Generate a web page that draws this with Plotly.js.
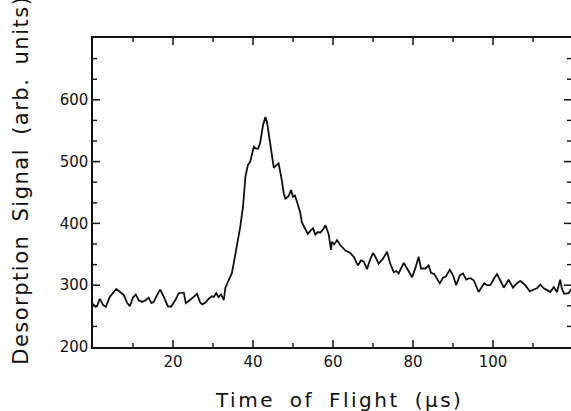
<!DOCTYPE html>
<html>
<head>
<meta charset="utf-8">
<script src="https://cdn.plot.ly/plotly-3.0.1.min.js"></script>
<style>
  html, body { margin: 0; padding: 0; background: #fff; }
  #plot { width: 571px; height: 411px; }
  .annotation-text { letter-spacing: 1.5px; word-spacing: 5px; }
  .annotation[data-index="0"] .annotation-text { letter-spacing: 2.5px; word-spacing: 6px; }
</style>
</head>
<body>
<div id="plot"></div>
<script>
// Time of flight (µs)
const timeOfFlight = [
  0, 0.6, 1, 1.7, 2.5, 3.2, 4.2, 4.8, 5.8, 6.8, 7.7, 8.5, 9.2, 10, 10.7, 11.4, 12.2, 13, 13.9, 14.6,
  15.2, 16, 16.8, 17.7, 18.7, 19.5, 20.6, 21.4, 22, 22.7, 23.2, 23.9, 25, 26, 26.8, 27.3, 28.1, 28.9,
  29.7, 30.2, 30.8, 31.4, 32, 32.7, 33.1, 33.9, 34.7, 35.2, 36, 36.8, 37.5, 38.1, 38.7, 39.3, 40.2,
  40.8, 41.3, 41.8, 42.5, 43.1, 43.5, 44.3, 45.2, 45.8, 46.4, 47.2, 47.7, 48.1, 48.9, 49.5, 50, 50.5,
  51, 51.8, 52.2, 53.1, 53.7, 54.5, 55, 55.6, 56.2, 56.8, 57.5, 58.1, 58.9, 59.5, 59.7, 60.3, 61,
  61.8, 62.5, 63.1, 64.3, 65.2, 66.2, 67, 67.7, 68.5, 69.2, 70, 70.6, 71.4, 72.5, 73.5, 74.3, 75.2,
  75.8, 76.4, 77.7, 78.5, 79.8, 80.6, 81.4, 82, 83.1, 83.9, 84.5, 85.3, 86.7, 87.5, 88.2, 89.2, 90,
  90.8, 91.7, 92.5, 93.3, 93.9, 94.5, 95.2, 96.4, 97, 97.8, 98.5, 99.3, 100.2, 101, 101.8, 102.7,
  103.9, 105, 105.8, 106.8, 108.1, 109.2, 110.2, 111, 111.8, 112.7, 113.5, 114.3, 115.2, 116, 116.8,
  117.2, 117.8, 118.9, 119.6
];

// Desorption signal (arb. units)
const desorptionSignal = [
  270, 265, 266, 278, 268, 265, 281, 286, 294, 289, 284, 272, 266, 280, 285, 276, 273, 275, 280, 271,
  273, 284, 293, 281, 266, 265, 276, 287, 288, 288, 271, 274, 280, 286, 272, 269, 272, 278,
  282, 281, 287, 281, 285, 276, 296, 308, 319, 336, 362, 394, 427, 475, 494, 500, 524,
  521, 521, 531, 559, 572, 564, 529, 490, 494, 497, 470, 448, 440, 444, 454, 443, 445,
  434, 418, 402, 392, 383, 389, 392, 382, 386, 385, 390, 397, 383, 357, 370, 366, 373,
  365, 360, 356, 352, 346, 332, 340, 338, 326, 340, 352, 346, 335, 343, 354, 335, 321,
  323, 319, 336, 327, 313, 328, 346, 327, 327, 332, 320, 318, 303, 312, 314, 325, 316,
  300, 316, 319, 309, 311, 311, 308, 289, 295, 303, 300, 300, 310, 318, 308, 296,
  309, 296, 302, 307, 300, 290, 293, 295, 301, 295, 292, 289, 297, 289, 309,
  295, 286, 287, 294
];

// Labelled (major) ticks
const xTickValues = [20, 40, 60, 80, 100];
const yTickValues = [300, 400, 500, 600];
const yTickLabels = [200, 300, 400, 500, 600];

// Short unlabelled ticks between the labelled ones
const xMinorTicks = [10, 30, 50, 70, 90, 110];
const yMinorTicks = [233.3, 266.7, 333.3, 366.7, 433.3, 466.7, 533.3, 566.7, 633.3, 666.7];

const xTitle = 'Time of Flight (µs)';
const yTitle = 'Desorption Signal (arb. units)';

const ink = '#111';
const tickFont = { family: 'DejaVu Sans, sans-serif', size: 15, color: ink };

const trace = {
  x: timeOfFlight,
  y: desorptionSignal,
  mode: 'lines',
  line: { color: ink, width: 1.8 }
};

// Inward tick marks on all four sides of the frame, placed on the axis scales
// (data units along the axis, pixel length across it).
function xTicks(vals, len, width) {
  return vals.flatMap(v => [
    { type: 'line', layer: 'above', xref: 'x', yref: 'paper', ysizemode: 'pixel', yanchor: 0,
      x0: v, x1: v, y0: 0, y1: len, line: { color: ink, width: width } },
    { type: 'line', layer: 'above', xref: 'x', yref: 'paper', ysizemode: 'pixel', yanchor: 1,
      x0: v, x1: v, y0: 0, y1: -len, line: { color: ink, width: width } }
  ]);
}
function yTicks(vals, len, width) {
  return vals.flatMap(v => [
    { type: 'line', layer: 'above', xref: 'paper', yref: 'y', xsizemode: 'pixel', xanchor: 0,
      y0: v, y1: v, x0: 0, x1: len, line: { color: ink, width: width } },
    { type: 'line', layer: 'above', xref: 'paper', yref: 'y', xsizemode: 'pixel', xanchor: 1,
      y0: v, y1: v, x0: 0, x1: -len, line: { color: ink, width: width } }
  ]);
}

const tickShapes = [].concat(
  xTicks(xTickValues, 7, 1.5),
  xTicks(xMinorTicks, 4, 1.4),
  yTicks(yTickValues, 7, 1.5),
  yTicks(yMinorTicks, 4, 1.4)
);

const layout = {
  width: 571,
  height: 411,
  margin: { l: 93, r: 0, t: 38, b: 64 },
  paper_bgcolor: '#fff',
  plot_bgcolor: '#fff',
  showlegend: false,
  xaxis: {
    range: [0, 119.5],
    showgrid: false,
    zeroline: false,
    showline: true,
    linecolor: ink,
    linewidth: 1.6,
    mirror: true,
    ticks: 'inside',
    ticklen: 7,
    tickcolor: 'rgba(0,0,0,0)',
    tickvals: xTickValues,
    ticktext: xTickValues.map(String),
    tickfont: tickFont
  },
  yaxis: {
    range: [200, 700],
    showgrid: false,
    zeroline: false,
    showline: true,
    linecolor: ink,
    linewidth: 1.6,
    mirror: true,
    ticks: 'inside',
    ticklen: 7,
    tickcolor: 'rgba(0,0,0,0)',
    tickvals: yTickLabels,
    ticktext: yTickLabels.map(String),
    tickfont: tickFont
  },
  shapes: tickShapes,
  // Axis titles, placed in paper coordinates around the frame
  annotations: [
    {
      text: xTitle,
      xref: 'paper', yref: 'paper',
      x: 0.5146, y: -0.171,
      xanchor: 'center', yanchor: 'middle',
      showarrow: false,
      font: { family: 'DejaVu Sans, sans-serif', size: 20, color: ink }
    },
    {
      text: yTitle,
      xref: 'paper', yref: 'paper',
      x: -0.1506, y: 0.538,
      xanchor: 'center', yanchor: 'middle',
      textangle: -90,
      showarrow: false,
      font: { family: 'DejaVu Sans, sans-serif', size: 21, color: ink }
    }
  ]
};

Plotly.newPlot('plot', [trace], layout, { displayModeBar: false, staticPlot: true });
</script>
</body>
</html>
